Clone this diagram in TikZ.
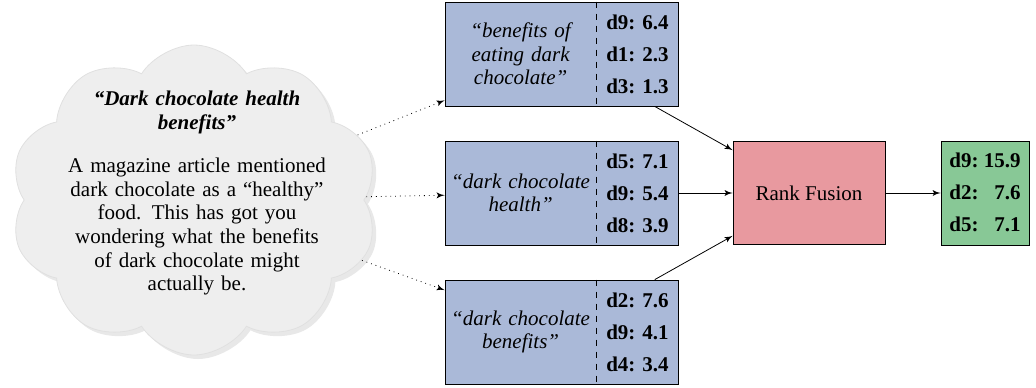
\documentclass[tikz,border=0pt]{standalone}
\usepackage{fontspec}
\setmainfont{Liberation Serif}
\usepackage{tikz}
\usetikzlibrary{shapes,arrows,shadows}
\definecolor{qblue}{HTML}{AAB9D8}
\definecolor{fusered}{HTML}{E8999F}
\definecolor{resgreen}{HTML}{88C896}
\definecolor{cloudgray}{HTML}{EEEEEE}
\newcommand{\figsize}{\fontsize{10.5}{11.8}\selectfont}
\tikzstyle{query} = [rectangle, draw, fill=qblue, 
    minimum width=116.5pt, minimum height=52pt, inner sep=0pt]
\tikzstyle{qtext} = [text width=74pt, align=center, font=\figsize\itshape, inner sep=0pt]
\tikzstyle{scores} = [minimum width=40.5pt, minimum height=52pt, align=center, 
    font=\figsize\bfseries, inner sep=0pt]
\tikzstyle{fusion} = [rectangle, draw, fill=fusered, %fill=red!40,
    minimum width=76pt, minimum height=51.5pt, font=\figsize]
\tikzstyle{result} = [rectangle, draw, fill=resgreen, 
    minimum width=44pt, minimum height=52pt, font=\figsize\bfseries, inner sep=0pt]
\tikzstyle{need} = [cloud, cloud puffs=10, cloud puff arc=115, fill=cloudgray, draw=black!12,
    minimum width=184pt, minimum height=155pt, 
    drop shadow={opacity=0.18, shadow xshift=2pt, shadow yshift=-2pt}]

\begin{document}
\begin{tikzpicture}[x=0.5pt, y=-0.5pt, node distance=2cm, auto]
    \useasboundingbox (0,0) rectangle (1036,387);

    % Place the information need
    \node [need, at={(194,200)}] (need) {};
    \node [at={(197,193)}, text width=150pt, align=center, font=\figsize, inner sep=0pt] (needtext) {\textbf{\textit{``Dark chocolate health\\ benefits''}}\\[10pt]
        A magazine article mentioned\\ dark chocolate as a ``healthy''\\ food. This has got you\\ wondering what the benefits\\ of dark chocolate might\\ actually be.};

    % Place query boxes
    \node [query, at={(561.5,54)}] (q1) {};
    \node [query, below of=q1, node distance=69.5pt] (q2) {};
    \node [query, below of=q2, node distance=69.5pt] (q3) {};

    \node [qtext, at={([xshift=38pt]q1.west)}] (q1text) {``benefits of\\ eating dark\\ chocolate''};
    \node [scores, anchor=east] at (q1.east) (q1run) {d9: 6.4\\[4.2pt]d1: 2.3\\[4.2pt]d3: 1.3};

    \node [qtext, at={([xshift=38pt]q2.west)}] (q2text) {``dark chocolate\\ health''};
    \node [scores, anchor=east] at (q2.east) (q2run) {d5: 7.1\\[4.2pt]d9: 5.4\\[4.2pt]d8: 3.9};

    \node [qtext, at={([xshift=38pt]q3.west)}] (q3text) {``dark chocolate\\ benefits''};
    \node [scores, anchor=east] at (q3.east) (q3run) {d2: 7.6\\[4.2pt]d9: 4.1\\[4.2pt]d4: 3.4};

    \path [draw, dashed] (q1run.north west) -- (q1run.south west);
    \path [draw, dashed] (q2run.north west) -- (q2run.south west);
    \path [draw, dashed] (q3run.north west) -- (q3run.south west);

    % Fusion and fused run
    \node [fusion, right of=q2, node distance=123.75pt] (fusion) {Rank Fusion};
    \node [result, right of=fusion, node distance=88pt] (fused) {%
        \renewcommand{\arraystretch}{1.36}%
        \begin{tabular}{@{}l@{\ }r@{}}d9: & 15.9\\ d2: & 7.6\\ d5: & 7.1\end{tabular}};

    % Draw lines
    \path [draw, -latex', dotted] (need) -- (q1);
    \path [draw, -latex', dotted] (need) -- (q2);
    \path [draw, -latex', dotted] (need) -- (q3);

    \path [draw, -latex'] (q1) -- (fusion);
    \path [draw, -latex'] (q2) -- (fusion);
    \path [draw, -latex'] (q3) -- (fusion);

    \path [draw, -latex'] (fusion) -- (fused);

\end{tikzpicture}
\end{document}
